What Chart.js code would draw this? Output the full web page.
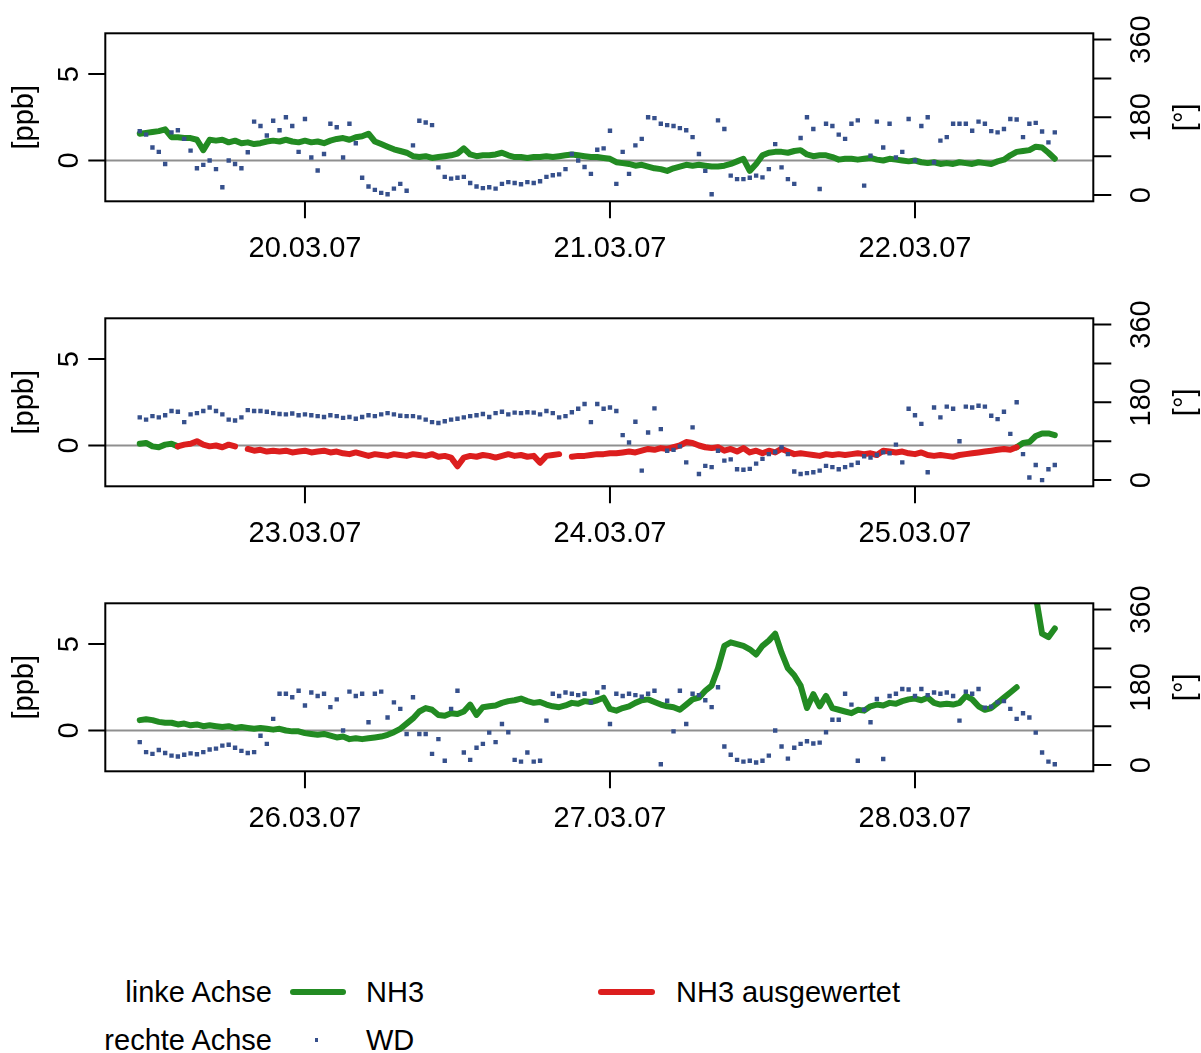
<!DOCTYPE html>
<html lang="de">
<head>
<meta charset="utf-8">
<title>NH3 und Windrichtung, 19.03.07 – 28.03.07</title>
<script src="https://cdn.jsdelivr.net/npm/chart.js@4.4.1/dist/chart.umd.min.js"></script>
<style>
  html, body { margin: 0; padding: 0; background: #fff; }
  body { width: 1201px; height: 1053px; position: relative; overflow: hidden;
         font-family: "Liberation Sans", Arial, Helvetica, sans-serif; color: #000; }
  canvas.panel { position: absolute; left: 0; }
  .lg { position: absolute; font-size: 29px; line-height: 29px; white-space: nowrap; }
  .sw { position: absolute; height: 6px; border-radius: 3px; }
</style>
</head>
<body>
<canvas class="panel" id="p1" width="1201" height="280" style="top:0px"></canvas>
<canvas class="panel" id="p2" width="1201" height="280" style="top:285px"></canvas>
<canvas class="panel" id="p3" width="1201" height="280" style="top:570px"></canvas>

<div class="lg" style="left:0;width:272px;text-align:right;top:978px">linke Achse</div>
<div class="sw" style="left:290px;width:56px;top:989px;background:#228b22"></div>
<div class="lg" style="left:366px;top:978px">NH3</div>
<div class="sw" style="left:598px;width:57px;top:989px;background:#dc1e1e"></div>
<div class="lg" style="left:676px;top:978px">NH3 ausgewertet</div>
<div class="lg" style="left:0;width:272px;text-align:right;top:1026px">rechte Achse</div>
<div style="position:absolute;left:315px;top:1038px;width:3px;height:4px;background:#36508c"></div>
<div class="lg" style="left:366px;top:1026px">WD</div>

<script>
// Half-hourly series; each panel starts at 11:00 of its first day (hours since 19.03.07 00:00)
const panelStartHours = [11, 83, 155];
const stepHours = 0.5;

// Day ticks (hours since 19.03.07 00:00) and their labels
const dayTickHours = [[24, 48, 72], [96, 120, 144], [168, 192, 216]];
const dayTickLabels = [
  ['20.03.07', '21.03.07', '22.03.07'],
  ['23.03.07', '24.03.07', '25.03.07'],
  ['26.03.07', '27.03.07', '28.03.07']
];

// Left axis (NH3, ppb) and right axis (WD, degrees)
const leftTicks = [0, 5];
const leftRange = [-2.36, 7.36];
const rightTicks = [0, 90, 180, 270, 360];
const rightTickLabels = ['0', '', '180', '', '360'];
const rightRange = [-14.4, 374.4];

// NH3 [ppb]
const nh3Panel1 = [
  1.55,1.6,1.65,1.7,1.8,1.35,1.35,1.3,1.3,1.2,
  0.6,1.2,1.15,1.2,1.05,1.15,1.0,1.05,0.95,1.0,
  1.1,1.15,1.1,1.2,1.1,1.05,1.15,1.05,1.1,1.0,
  1.15,1.25,1.3,1.2,1.35,1.4,1.55,1.1,0.95,0.8,
  0.65,0.55,0.45,0.25,0.2,0.25,0.15,0.2,0.25,0.3,
  0.4,0.7,0.35,0.25,0.3,0.3,0.35,0.45,0.3,0.2,
  0.2,0.15,0.2,0.2,0.25,0.2,0.25,0.3,0.35,0.3,
  0.25,0.2,0.2,0.15,0.1,-0.1,-0.15,-0.2,-0.3,-0.25,
  -0.35,-0.45,-0.5,-0.6,-0.45,-0.35,-0.25,-0.3,-0.25,-0.3,
  -0.35,-0.35,-0.3,-0.2,-0.05,0.1,-0.6,-0.2,0.3,0.45,
  0.5,0.5,0.45,0.55,0.6,0.35,0.25,0.3,0.3,0.2,
  0.05,0.1,0.1,0.05,0.1,0.15,0.05,0.0,0.1,0.05,
  0.0,-0.05,0.0,-0.1,-0.15,-0.1,-0.2,-0.15,-0.2,-0.1,
  -0.15,-0.2,-0.1,-0.15,-0.2,-0.05,0.05,0.3,0.5,0.55,
  0.6,0.8,0.75,0.45,0.1
];
const nh3Panel2 = [
  0.1,0.15,-0.05,-0.1,0.05,0.1,-0.05,0.05,0.1,0.25,
  0.05,-0.05,0.0,-0.1,0.05,-0.05,null,-0.2,-0.3,-0.25,
  -0.35,-0.3,-0.35,-0.3,-0.4,-0.35,-0.3,-0.4,-0.35,-0.3,
  -0.4,-0.35,-0.45,-0.5,-0.4,-0.5,-0.6,-0.5,-0.55,-0.6,
  -0.5,-0.55,-0.6,-0.5,-0.55,-0.6,-0.5,-0.65,-0.6,-0.7,
  -1.2,-0.7,-0.6,-0.65,-0.55,-0.6,-0.7,-0.6,-0.5,-0.6,
  -0.55,-0.65,-0.6,-1.0,-0.6,-0.55,-0.5,null,-0.65,-0.6,
  -0.6,-0.55,-0.5,-0.5,-0.45,-0.45,-0.4,-0.35,-0.4,-0.3,
  -0.2,-0.25,-0.15,-0.2,-0.1,0.0,0.2,0.15,0.0,-0.1,
  -0.15,-0.1,-0.3,-0.2,-0.35,-0.15,-0.4,-0.3,-0.45,-0.3,
  -0.4,-0.2,-0.35,-0.5,-0.45,-0.5,-0.55,-0.6,-0.5,-0.55,
  -0.5,-0.55,-0.5,-0.45,-0.5,-0.45,-0.55,-0.3,-0.35,-0.4,
  -0.35,-0.45,-0.5,-0.4,-0.55,-0.6,-0.55,-0.6,-0.65,-0.55,
  -0.5,-0.45,-0.4,-0.35,-0.3,-0.25,-0.2,-0.25,-0.1,0.15,
  0.2,0.55,0.7,0.7,0.6
];
const nh3Panel3 = [
  0.6,0.65,0.6,0.5,0.45,0.45,0.35,0.4,0.3,0.35,
  0.25,0.3,0.25,0.2,0.25,0.15,0.2,0.15,0.1,0.15,
  0.1,0.05,0.1,0.0,-0.05,-0.05,-0.15,-0.2,-0.25,-0.2,
  -0.3,-0.4,-0.35,-0.5,-0.45,-0.5,-0.45,-0.4,-0.35,-0.25,
  -0.1,0.1,0.4,0.7,1.1,1.3,1.2,0.9,0.85,1.0,
  0.95,1.1,1.5,0.9,1.35,1.4,1.45,1.6,1.7,1.75,
  1.85,1.7,1.6,1.65,1.5,1.4,1.35,1.45,1.6,1.55,
  1.7,1.65,1.75,1.9,1.25,1.15,1.3,1.4,1.6,1.75,
  1.8,1.65,1.5,1.4,1.35,1.2,1.5,1.8,1.9,2.3,
  2.6,3.6,4.9,5.1,5.0,4.9,4.7,4.4,4.9,5.2,
  5.6,4.5,3.6,3.2,2.6,1.3,2.1,1.4,2.0,1.3,
  1.2,1.1,1.0,1.2,1.15,1.4,1.5,1.45,1.6,1.55,
  1.7,1.8,1.85,1.75,1.9,1.6,1.5,1.55,1.5,1.6,
  2.0,1.8,1.4,1.2,1.3,1.6,1.9,2.2,2.5,null,
  null,7.8,5.6,5.4,5.9
];
// Stretch of panel 2 marked as evaluated (index range into nh3Panel2)
const nh3EvaluatedRange = [6, 138];

// Wind direction [deg]
const wdPanel1 = [
  148,140,110,100,72,145,150,130,103,62,
  70,80,60,18,80,72,62,99,170,160,
  138,172,150,180,160,100,176,87,57,95,
  165,157,87,165,120,40,20,12,5,2,
  15,26,10,115,172,168,162,64,42,38,
  40,42,28,20,16,18,15,26,30,28,
  25,30,28,32,42,46,48,60,95,80,
  65,49,105,108,149,26,100,49,115,130,
  180,178,165,162,160,155,150,134,95,56,
  2,173,153,45,37,37,40,45,41,60,
  118,64,37,26,132,180,153,14,165,160,
  140,130,165,173,22,91,170,110,165,87,
  100,176,80,160,180,76,126,134,165,165,
  165,149,170,165,148,145,153,176,175,134,
  165,167,147,122,145
];
const wdPanel2 = [
  145,140,148,145,150,160,158,134,152,155,
  160,168,160,152,140,138,145,162,160,160,
  158,155,153,152,154,150,152,150,148,146,
  150,148,144,146,142,146,150,148,152,155,
  152,149,148,148,145,140,134,132,136,140,
  142,145,148,150,153,146,155,158,152,156,
  155,157,156,152,160,155,145,148,157,165,
  176,134,176,165,168,160,104,87,135,22,
  110,166,118,68,70,78,41,122,14,33,
  30,68,45,48,25,24,26,38,49,60,
  65,76,60,20,14,16,18,22,33,30,
  25,30,35,40,55,52,58,64,62,82,
  41,165,150,130,18,168,145,170,165,90,
  170,168,172,170,149,141,158,107,180,60,
  6,35,0,25,35
];
const wdPanel3 = [
  53,30,26,35,28,22,20,24,27,25,
  30,36,38,45,47,40,33,28,30,68,
  49,107,165,165,157,172,138,168,160,165,
  134,152,80,170,160,165,99,165,170,110,
  145,130,72,157,72,72,26,60,10,130,
  172,29,12,40,49,75,53,95,76,12,
  8,29,8,10,103,165,160,168,165,162,
  165,145,168,180,95,165,160,165,162,158,
  165,172,2,149,78,172,95,165,162,150,
  134,180,43,24,12,8,10,6,10,22,
  80,43,15,40,49,55,50,52,76,105,
  105,165,140,10,128,99,153,14,160,165,
  176,175,160,176,162,168,165,168,160,103,
  170,165,176,133,135,145,148,130,107,120,
  110,75,29,8,2
];

const COLORS = { nh3: '#228b22', evaluated: '#dc1e1e', wd: '#36508c', zero: '#8f8f8f', ink: '#000' };
const FONT = '29px "Liberation Sans", Arial, Helvetica, sans-serif';

// Plot box placement inside each panel canvas
const BOX = { left: 105.3, right: 1093.3, top: 33.3, bottom: 201.3 };
const CANVAS_W = 1201, CANVAS_H = 280;
// x range extends beyond the first/last day tick (hours)
const X_PAD_BEFORE = 15.71, X_PAD_AFTER = 14.03;

function toPoints(values, startHour, keep) {
  return values.map((v, i) => ({
    x: startHour + i * stepHours,
    y: (keep && !keep(i)) ? null : v
  }));
}

function rotatedText(ctx, text, x, y) {
  ctx.save();
  ctx.translate(x, y);
  ctx.rotate(-Math.PI / 2);
  ctx.textAlign = 'center';
  ctx.textBaseline = 'alphabetic';
  ctx.fillText(text, 0, 0);
  ctx.restore();
}

const panelAxes = {
  id: 'panelAxes',
  beforeDatasetsDraw(chart) {
    const { ctx, chartArea: a, scales } = chart;
    const y0 = scales.y.getPixelForValue(0);
    ctx.save();
    ctx.beginPath();
    ctx.rect(a.left, a.top, a.right - a.left, a.bottom - a.top);
    ctx.clip();
    ctx.strokeStyle = COLORS.zero;
    ctx.lineWidth = 1.8;
    ctx.beginPath();
    ctx.moveTo(a.left, y0);
    ctx.lineTo(a.right, y0);
    ctx.stroke();
    ctx.restore();
  },
  afterDatasetsDraw(chart, args, opts) {
    const { ctx, chartArea: a, scales } = chart;
    ctx.save();
    ctx.strokeStyle = COLORS.ink;
    ctx.fillStyle = COLORS.ink;
    ctx.lineWidth = 2;
    ctx.strokeRect(a.left, a.top, a.right - a.left, a.bottom - a.top);
    ctx.font = FONT;

    // bottom axis: day ticks
    ctx.beginPath();
    opts.days.forEach(h => {
      const x = scales.x.getPixelForValue(h);
      ctx.moveTo(x, a.bottom); ctx.lineTo(x, a.bottom + 17);
    });
    ctx.stroke();
    ctx.textAlign = 'center';
    ctx.textBaseline = 'alphabetic';
    opts.days.forEach((h, i) => {
      ctx.fillText(opts.labels[i], scales.x.getPixelForValue(h), a.bottom + 56);
    });

    // left axis
    ctx.beginPath();
    leftTicks.forEach(v => {
      const y = scales.y.getPixelForValue(v);
      ctx.moveTo(a.left, y); ctx.lineTo(a.left - 17, y);
    });
    ctx.stroke();
    leftTicks.forEach(v => rotatedText(ctx, String(v), a.left - 27, scales.y.getPixelForValue(v)));
    rotatedText(ctx, '[ppb]', a.left - 72, (a.top + a.bottom) / 2);

    // right axis
    ctx.beginPath();
    rightTicks.forEach(v => {
      const y = scales.y2.getPixelForValue(v);
      ctx.moveTo(a.right, y); ctx.lineTo(a.right + 18, y);
    });
    ctx.stroke();
    rightTicks.forEach((v, i) => {
      if (rightTickLabels[i]) rotatedText(ctx, rightTickLabels[i], a.right + 57, scales.y2.getPixelForValue(v));
    });
    rotatedText(ctx, '[°]', a.right + 101, (a.top + a.bottom) / 2);
    ctx.restore();
  }
};

function lineDataset(label, points, color, order) {
  return {
    label, data: points, yAxisID: 'y',
    borderColor: color, backgroundColor: color, borderWidth: 6,
    borderJoinStyle: 'round', borderCapStyle: 'round',
    pointRadius: 0, tension: 0, spanGaps: false, clip: 0, order
  };
}

function makePanel(canvasId, k, nh3, wd) {
  const start = panelStartHours[k];
  const days = dayTickHours[k];
  const datasets = [{
    label: 'WD', data: toPoints(wd, start), yAxisID: 'y2', showLine: false,
    pointStyle: 'rect', pointRadius: 3.1, pointBorderWidth: 0,
    pointBackgroundColor: COLORS.wd, pointBorderColor: COLORS.wd, clip: 0, order: 0
  }];
  if (k === 1) {
    const [s, e] = nh3EvaluatedRange;
    datasets.push(lineDataset('NH3 ausgewertet', toPoints(nh3, start, i => i >= s && i <= e), COLORS.evaluated, 1));
    datasets.push(lineDataset('NH3', toPoints(nh3, start, i => i <= s || i >= e), COLORS.nh3, 2));
  } else {
    datasets.push(lineDataset('NH3', toPoints(nh3, start), COLORS.nh3, 2));
  }
  return new Chart(document.getElementById(canvasId), {
    type: 'line',
    data: { datasets },
    options: {
      responsive: false,
      animation: false,
      events: [],
      layout: { padding: { left: BOX.left, right: CANVAS_W - BOX.right, top: BOX.top, bottom: CANVAS_H - BOX.bottom } },
      scales: {
        x: { type: 'linear', min: days[0] - X_PAD_BEFORE, max: days[days.length - 1] + X_PAD_AFTER, display: false },
        y: { type: 'linear', min: leftRange[0], max: leftRange[1], display: false },
        y2: { type: 'linear', position: 'right', min: rightRange[0], max: rightRange[1], display: false }
      },
      plugins: {
        legend: { display: false },
        tooltip: { enabled: false },
        panelAxes: { days, labels: dayTickLabels[k] }
      }
    },
    plugins: [panelAxes]
  });
}

makePanel('p1', 0, nh3Panel1, wdPanel1);
makePanel('p2', 1, nh3Panel2, wdPanel2);
makePanel('p3', 2, nh3Panel3, wdPanel3);
</script>
</body>
</html>
